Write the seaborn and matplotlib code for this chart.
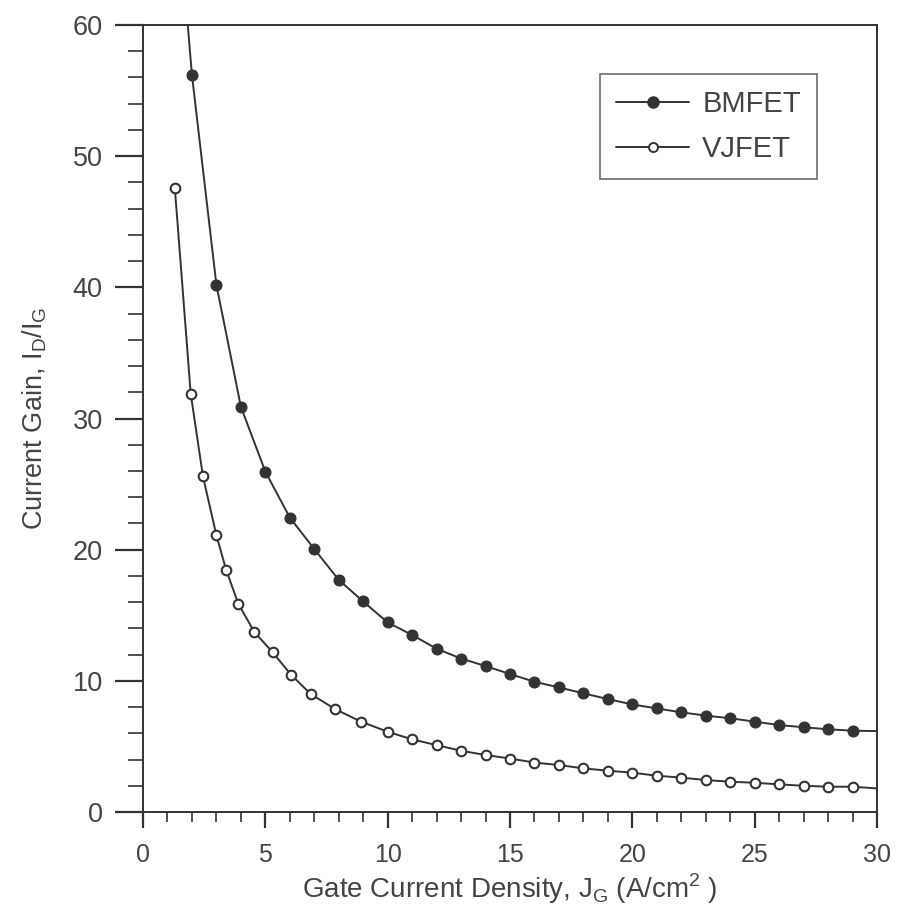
import numpy as np
import pandas as pd
import matplotlib
matplotlib.use("Agg")
import matplotlib.pyplot as plt
from matplotlib.lines import Line2D
from matplotlib.ticker import MultipleLocator
import seaborn as sns

# ---- data ----
bm_x = [2, 3, 4, 5, 6, 7, 8, 9, 10, 11, 12, 13, 14, 15, 16, 17, 18, 19, 20,
        21, 22, 23, 24, 25, 26, 27, 28, 29]
bm_y = [56.2, 40.2, 30.9, 25.95, 22.45, 20.05, 17.7, 16.05, 14.45, 13.5, 12.45,
        11.7, 11.13, 10.52, 9.93, 9.5, 9.05, 8.61, 8.2, 7.9, 7.6, 7.35, 7.15,
        6.89, 6.63, 6.46, 6.31, 6.2]
bm_start = (1.83, 60.0)   # where the curve enters the top of the frame
bm_end = (30.0, 6.17)     # curve continues to the right edge

vj_x = [1.3, 1.95, 2.45, 3.0, 3.4, 3.9, 4.55, 5.3, 6.05, 6.85, 7.85, 8.9,
        10, 11, 12, 13, 14, 15, 16, 17, 18, 19, 20, 21, 22, 23, 24, 25, 26,
        27, 28, 29]
vj_y = [47.6, 31.9, 25.6, 21.1, 18.45, 15.86, 13.73, 12.17, 10.47, 9.0, 7.85,
        6.9, 6.12, 5.54, 5.1, 4.67, 4.35, 4.08, 3.77, 3.58, 3.33, 3.15, 3.0,
        2.77, 2.62, 2.44, 2.31, 2.23, 2.11, 2.0, 1.93, 1.93]
vj_end = (30.0, 1.8)

series_names = ["BMFET", "VJFET"]
x_label = r"Gate Current Density, J$_\mathregular{G}$ (A/cm$^\mathregular{2}$ )"
y_label = r"Current Gain, I$_\mathregular{D}$/I$_\mathregular{G}$"

# ---- tables ----
bm_line = pd.DataFrame({"x": [bm_start[0]] + bm_x + [bm_end[0]],
                        "y": [bm_start[1]] + bm_y + [bm_end[1]]})
vj_line = pd.DataFrame({"x": vj_x + [vj_end[0]], "y": vj_y + [vj_end[1]]})
bm_pts = pd.DataFrame({"x": bm_x, "y": bm_y})
vj_pts = pd.DataFrame({"x": vj_x, "y": vj_y})

sns.set_theme(style="ticks")
plt.rcParams["font.family"] = ["Liberation Sans", "DejaVu Sans"]
plt.rcParams["mathtext.fontset"] = "custom"
plt.rcParams["mathtext.rm"] = "Liberation Sans"

ink = "#333333"
txt = "#444444"

fig = plt.figure(figsize=(9.01, 9.19), dpi=100)
ax = fig.add_axes([0.1587, 0.1164, 0.9734 - 0.1587, 0.9728 - 0.1164])

sns.lineplot(data=bm_line, x="x", y="y", ax=ax, color=ink, lw=1.4,
             sort=False, estimator=None)
sns.lineplot(data=vj_line, x="x", y="y", ax=ax, color=ink, lw=1.4,
             sort=False, estimator=None)
sns.scatterplot(data=bm_pts, x="x", y="y", ax=ax, color=ink, s=62,
                edgecolor=ink, linewidth=0.8, zorder=3)
sns.scatterplot(data=vj_pts, x="x", y="y", ax=ax, facecolor="white", s=48,
                edgecolor=ink, linewidth=1.5, zorder=3)

ax.set_xlim(0, 30)
ax.set_ylim(0, 60)
ax.xaxis.set_major_locator(MultipleLocator(5))
ax.xaxis.set_minor_locator(MultipleLocator(1))
ax.yaxis.set_major_locator(MultipleLocator(10))
ax.yaxis.set_minor_locator(MultipleLocator(2))

ax.tick_params(axis="x", which="major", length=11.5, width=1.6, color=ink,
               labelsize=18, labelcolor=txt, pad=11)
ax.tick_params(axis="x", which="minor", length=7, width=1.2, color=ink)
ax.tick_params(axis="y", which="major", length=20, width=1.6, color=ink,
               labelsize=19.5, labelcolor=txt, pad=9)
ax.tick_params(axis="y", which="minor", length=10.5, width=1.2, color=ink)

for s in ax.spines.values():
    s.set_color(ink)
    s.set_linewidth(1.4)

ax.set_xlabel(x_label, fontsize=20, color=txt, labelpad=3)
ax.set_ylabel(y_label, fontsize=19.5, color=txt, labelpad=17)

handles = [
    Line2D([], [], color=ink, lw=1.4, marker="o", markersize=8,
           markerfacecolor=ink, markeredgecolor=ink),
    Line2D([], [], color=ink, lw=1.4, marker="o", markersize=6.5,
           markerfacecolor="white", markeredgecolor=ink, markeredgewidth=1.4),
]
leg = ax.legend(handles, series_names, loc="upper right",
                bbox_to_anchor=(0.918, 0.938), borderaxespad=0,
                fontsize=21, frameon=True,
                fancybox=False, edgecolor="#555555", handlelength=2.5,
                handletextpad=0.45, borderpad=0.55, labelspacing=0.6,
                labelcolor=txt)
leg.get_frame().set_linewidth(1.3)

fig.savefig("out.png", dpi=100, facecolor="white")
